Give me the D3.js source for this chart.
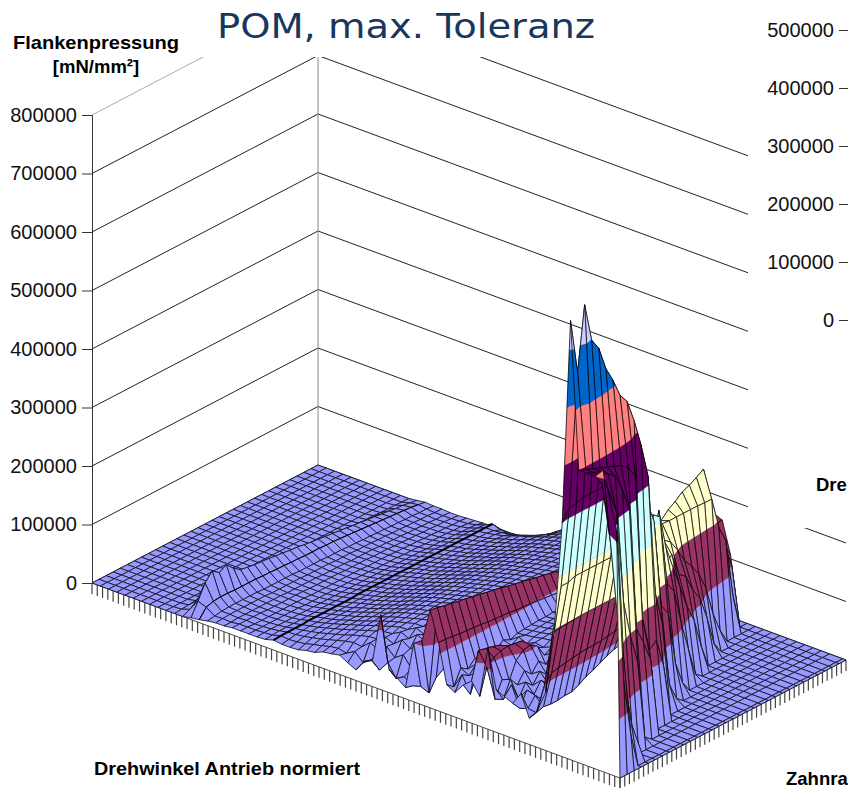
<!DOCTYPE html>
<html><head><meta charset="utf-8">
<script src="https://cdn.jsdelivr.net/npm/d3@7"></script>
<style>html,body{margin:0;padding:0;background:#fff;overflow:hidden}svg{display:block}</style>
</head><body><div id="c"></div>
<script>
const title = "POM, max. Toleranz";
const leftTicks = [0,100000,200000,300000,400000,500000,600000,700000,800000];
const rightTicks = [0,100000,200000,300000,400000,500000];
const bandColors = ["#9999FF","#993366","#FFFFCC","#CCFFFF","#660066","#FF8080","#0066CC","#CCCCFF"];
const bandEdges = [0,100,200,300,400,500,600,700,800];
// Flankenpressung in 1000 mN/mm2. One row per Drehwinkel step, one value per Zahnrad step; values left out are 0.
const pressureRows = [
[],[],[],[],[],[],[],[],[],[],
[0,1,2,3,3,3,2,2,2,1,1,1,1],
[0,6,14,20,18,20,16,13,12,11,10,9,8,8,7,7,6,6,5,5,4,4,4,3,3,2,2,2,1,1,1],
[3,25,50,64,55,62,50,41,39,37,36,35,33,32,30,29,27,25,24,22,21,19,18,16,15,13,12,10,9,7,6,4,2],
[5,20,24,25,25,24,24,24,24,23,23,22,22,21,21,20,20,20,19,19,18,17,16,15,14,13,12,11,10,9,8,6,4],
[8,10,12,13,13,13,13,13,12,12,12,12,12,11,11,11,11,10,10,10,9,9,8,8,7,7,6,6,5,5,4,4,3],
[10,11,12,12,12,12,12,12,11,11,11,11,11,10,10,10,10,9,9,9,8,8,8,7,7,6,6,5,5,4,4,3,3],
[10,10,11,11,11,11,11,11,11,10,10,10,10,10,9,9,9,9,8,8,8,8,7,7,6,6,5,5,4,4,3,3,2],
[12,12,12,12,12,11,11,11,11,11,11,10,10,10,10,10,9,9,9,9,8,8,8,7,7,6,6,5,5,4,4,3,2],
[12,12,11,11,11,11,11,11,11,11,10,10,10,10,10,10,10,10,9,9,9,9,8,8,7,7,6,6,5,5,4,4,3],
[12,12,12,12,12,12,12,12,11,11,11,11,11,11,11,11,11,11,10,10,10,10,9,9,9,8,8,7,7,6,6,5,4],
[12,13,13,13,13,13,13,13,13,13,13,13,13,13,13,13,13,13,13,12,12,12,12,12,11,11,11,10,10,9,9,8,5],
[13,14,15,15,15,15,15,15,16,16,16,16,16,16,16,16,16,16,16,16,16,16,16,16,16,15,15,15,15,15,14,13,5],
[17,18,18,18,18,19,19,19,19,19,19,19,20,20,20,20,20,20,20,20,20,20,20,20,20,20,20,20,20,20,20,20,6],
[15,17,19,20,21,21,22,22,22,22,23,23,23,24,24,24,24,24,24,24,24,23,23,23,23,23,22,22,22,22,20,15,5],
[15,18,21,23,24,25,25,26,26,26,27,27,27,27,27,27,28,28,28,28,27,27,27,27,27,26,26,26,25,25,22,15,6],
[16,20,24,26,28,29,29,30,30,31,31,31,31,31,32,32,32,32,32,31,31,31,31,31,30,30,30,30,29,28,24,16,7],
[20,24,27,30,32,33,34,34,35,35,35,36,36,36,36,36,36,36,36,36,36,36,35,35,35,35,34,34,34,33,28,20,10],
[22,27,31,34,36,38,38,39,40,40,40,40,41,41,41,41,41,41,41,41,41,40,40,40,40,39,39,39,38,38,33,25,16],
[28,31,35,38,41,42,43,44,44,45,45,45,46,46,46,46,46,46,46,46,45,45,45,45,44,44,44,43,43,42,38,32,26],
[30,33,39,43,45,47,48,49,49,50,50,51,51,51,51,51,51,51,51,50,50,50,50,49,49,49,48,48,48,47,44,40,38],
[33,30,42,47,50,52,53,54,55,55,56,56,56,56,56,56,56,56,56,56,55,55,55,55,54,54,54,53,53,52,50,48,48],
[25,38,40,51,54,56,58,59,60,60,60,61,61,61,61,61,61,61,61,60,60,60,60,60,59,59,59,58,58,57,56,54,50],
[18,24,52,52,58,61,62,63,64,65,65,65,65,65,65,65,65,65,65,65,65,65,64,64,64,63,63,62,62,62,60,58,54],
[38,34,44,60,60,65,66,67,68,68,69,69,69,69,69,69,69,69,69,69,69,69,68,68,68,67,67,66,66,65,64,62,58],
[44,22,56,54,68,66,70,71,72,72,73,73,73,73,73,73,73,73,73,73,73,72,72,72,71,71,71,70,70,69,68,66,62],
[128,40,42,66,62,74,70,74,75,76,76,76,77,77,77,77,77,77,77,77,76,76,76,76,75,75,74,74,73,72,71,69,65],
[40,18,52,56,74,68,78,75,78,79,79,80,80,80,80,80,80,80,80,80,80,79,79,79,78,78,77,77,76,75,74,72,68],
[30,26,34,66,66,80,74,82,79,82,82,83,83,83,83,83,83,83,83,83,82,82,82,81,81,80,80,79,78,77,76,74,70],
[19,16,42,48,76,72,85,79,86,83,85,86,86,86,86,86,86,86,86,85,85,85,85,84,84,83,83,82,81,80,78,76,72],
[100,20,24,56,64,84,78,88,82,89,86,88,89,89,89,89,89,89,88,88,88,88,87,87,86,86,85,84,83,82,80,78,74],
[110,14,34,42,74,78,90,84,92,88,94,90,92,92,92,92,92,92,92,91,91,91,90,90,89,88,87,86,85,84,82,80,76],
[167,165,162,160,157,155,152,150,147,145,142,139,136,134,131,128,126,123,120,115,110,105,100,95,90,86,84,82,80,78,76,74,72],
[117,116,115,113,112,111,110,108,107,106,105,103,102,101,100,98,97,95,92,88,84,80,78,78,78,78,78,78,78,78,78,78,78],
[50,40,66,58,70,62,72,66,76,70,75,76,77,78,78,79,79,80,80,80,80,80,80,80,80,80,80,82,84,86,88,90,92],
[42,66,58,72,62,76,66,78,72,80,77,78,79,80,80,81,81,82,82,82,84,86,88,88,90,90,92,92,94,96,98,98,100],
[60,38,70,62,76,66,80,70,82,74,79,80,81,82,82,83,83,84,84,84,88,90,92,94,96,98,100,100,100,100,100,100,100],
[72,118,115,112,108,100,90,82,80,81,82,83,84,84,85,85,86,86,86,88,92,96,100,104,108,112,116,118,120,122,124,126,130],
[51,95,105,110,112,110,108,80,84,78,84,85,86,86,87,87,88,88,88,90,100,106,112,118,122,128,134,140,146,150,156,162,170],
[140,45,72,64,92,104,106,98,76,84,80,85,86,87,88,88,89,89,90,92,110,118,126,132,140,146,152,160,166,168,168,168,167],
[73,50,78,62,80,68,84,72,86,76,84,85,86,87,88,89,90,90,91,95,150,156,164,172,180,188,196,205,170,165,162,160,161],
[66,80,50,72,60,78,66,82,72,84,78,84,85,86,87,88,89,90,92,100,200,200,210,220,230,240,250,260,190,170,160,130,107],
[60,45,70,56,74,62,78,68,82,72,84,80,82,84,85,86,88,90,95,200,220,240,252,260,270,275,282,290,215,180,140,100,0],
[82,50,66,52,68,56,72,62,70,76,72,84,84,86,88,90,92,95,120,247,246,245,245,245,245,245,244,244,190,160,60,0,0],
[45,48,52,50,50,52,52,58,65,70,76,82,87,90,92,95,100,110,140,230,220,200,175,160,140,110,60,25,0],
[63,100,115,118,120,122,124,125,125,126,128,130,132,135,140,150,160,180,195,210,170,160,130,110,70,20,0],
[100,195,197,198,199,200,200,200,200,200,200,198,195,190,195,220,310,240,200,160,120,90,40,0],
[206,280,280,285,285,285,285,285,285,285,283,280,275,260,320,310,190,170,110,60,10,0],
[400,420,420,425,425,425,425,425,425,420,410,400,360,320,170,150,60,20,0],
[751,655,765,698,678,637,611,579,562,523,474,414,210,150,40,10,0],
[500,495,490,485,480,475,470,460,440,190,130,140,90,0],
[500,495,490,480,470,440,400,190,160,125,0],
[500,480,460,420,260,194,145,10,0],
[516,385,290,135,55,0],
[420,155,59,0],
[]
];
const foldRows = [{row:13,w:.9},{row:22,w:2}];

const W=848,H=788,NU=64,NV=32;
const x0=92,y0=583;
const xU=d3.scaleLinear([0,NU],[0,528]), yU=d3.scaleLinear([0,NU],[0,195]);
const xV=d3.scaleLinear([0,NV],[0,226]), yV=d3.scaleLinear([0,NV],[0,-118]);
const yZ=d3.scaleLinear([0,800],[0,-468]);
const rowPos=i=>i===63?63.6:i;
const px=p=>x0+xU(p.u)+xV(p.v), py=p=>y0+yU(p.u)+yV(p.v)+yZ(p.z);
const pathOf=d3.line().x(px).y(py).curve(d3.curveLinearClosed);
const open=d3.line().x(px).y(py);
const zAt=(i,j)=>pressureRows[i]?.[j]??0;

const svg=d3.select("#c").append("svg").attr("width",W).attr("height",H);
svg.append("rect").attr("width",W).attr("height",H).attr("fill","#fff");

// walls
const walls=svg.append("g").attr("fill","none");
leftTicks.forEach(t=>{
  const z=t/1000;
  walls.append("path").attr("d",open([{u:0,v:0,z},{u:0,v:NV,z}]))
    .attr("stroke",t===800000?"#aaa":"#222").attr("stroke-width",1);
  walls.append("path").attr("d",open([{u:0,v:NV,z},{u:NU,v:NV,z}]))
    .attr("stroke","#222").attr("stroke-width",1);
});
svg.append("rect").attr("x",0).attr("y",0).attr("width",W).attr("height",57).attr("fill","#fff");
svg.append("rect").attr("x",748).attr("y",0).attr("width",100).attr("height",528).attr("fill","#fff");
svg.append("path").attr("d",open([{u:0,v:NV,z:0},{u:0,v:NV,z:697}])).attr("stroke","#888").attr("fill","none");

// left axis
const zLeft=d3.scaleLinear([0,800000],[y0,y0-468]);
const axL=svg.append("g").attr("transform",`translate(${x0},0)`)
  .call(d3.axisLeft(zLeft).tickValues(leftTicks).tickFormat(d3.format("d")).tickSize(10).tickPadding(5));
const zRight=d3.scaleLinear([0,500000],[320,30]);
const axR=svg.append("g").attr("transform",`translate(848,0)`)
  .call(d3.axisLeft(zRight).tickValues(rightTicks).tickFormat(d3.format("d")).tickSize(9).tickPadding(5));
axR.select(".domain").remove();
[axL,axR].forEach(a=>{
  a.selectAll("text").attr("font-family","'Liberation Sans',Arial,sans-serif").attr("font-size",20).attr("fill","#111");
  a.selectAll("line").attr("stroke","#333");
  a.select(".domain").attr("stroke","#333");
});

// floor edges and ticks
const edge=svg.append("g");
edge.append("path").attr("d",open([{u:0,v:0,z:0},{u:NU,v:0,z:0},{u:NU,v:NV,z:0}])).attr("stroke","#333").attr("fill","none").attr("stroke-width",.9);
d3.range(0,101).forEach(k=>{
  const p={u:k/100*NU,v:0,z:0};
  edge.append("line").attr("x1",px(p)).attr("x2",px(p)).attr("y1",py(p)).attr("y2",py(p)+11).attr("stroke","#444").attr("stroke-width",1.2);
});
d3.range(0,49).forEach(k=>{
  const p={u:NU,v:k/48*NV,z:0};
  edge.append("line").attr("x1",px(p)).attr("x2",px(p)).attr("y1",py(p)).attr("y2",py(p)+11).attr("stroke","#444").attr("stroke-width",1.2);
});

// surface, painted back to front; each cell is split along the colour bands
function clip(poly,level,keepAbove){
  const out=[];
  poly.forEach((a,k)=>{
    const b=poly[(k+1)%poly.length];
    const ina=keepAbove?a.z>=level:a.z<=level, inb=keepAbove?b.z>=level:b.z<=level;
    if(ina) out.push(a);
    if(ina!==inb){
      const t=(level-a.z)/(b.z-a.z);
      out.push({u:a.u+(b.u-a.u)*t,v:a.v+(b.v-a.v)*t,z:level});
    }
  });
  return out;
}
const surf=svg.append("g");
for(let i=0;i<NU;i++){
  for(let j=NV-1;j>=0;j--){
    const q=[[i,j],[i+1,j],[i+1,j+1],[i,j+1]].map(([a,b])=>({u:rowPos(a),v:b,z:zAt(a,b)}));
    const zs=q.map(d=>d.z), lo=d3.min(zs), hi=d3.max(zs);
    bandColors.forEach((c,b)=>{
      const a0=bandEdges[b],a1=bandEdges[b+1];
      if(hi<a0||lo>a1||(hi===a0&&b>0)) return;
      let poly=clip(q,a0,true); if(poly.length) poly=clip(poly,a1,false);
      if(poly.length>2) surf.append("path").attr("d",pathOf(poly)).attr("fill",c).attr("stroke",c).attr("stroke-width",.3);
    });
    surf.append("path").attr("d",pathOf(q)).attr("fill","none").attr("stroke","#000").attr("stroke-opacity",.88).attr("stroke-width",.85);
  }
  foldRows.filter(f=>f.row===i).forEach(f=>{
    const line=d3.range(0,NV).map(j=>({u:i,v:j,z:zAt(i,j)}));
    surf.append("path").attr("d",open(line)).attr("fill","none").attr("stroke","#000").attr("stroke-width",f.w);
  });
}

// texts
const bold="'Liberation Sans',Arial,sans-serif";
const T=(s,x,y,fs,opt={})=>{
  const t=svg.append("text").attr("x",x).attr("y",y).attr("font-size",fs).attr("font-family",opt.ff||bold)
   .attr("font-weight",opt.w||"bold").attr("fill",opt.c||"#000").attr("text-anchor",opt.a||"start").text(s);
  if(opt.len) t.attr("textLength",opt.len).attr("lengthAdjust","spacingAndGlyphs");
  return t;
};
T(title,217,38,34,{ff:"'DejaVu Sans',Verdana,sans-serif",w:"normal",c:"#17375E",len:378});
T("Flankenpressung",13,49,18.5,{len:166});
T("[mN/mm²]",96,73,18.5,{a:"middle"});
T("Drehwinkel Antrieb normiert",94,775,18.5,{len:266});
T("Dre",816,491,18.5);
T("Zahnra",786,785,18.5);
</script></body></html>
